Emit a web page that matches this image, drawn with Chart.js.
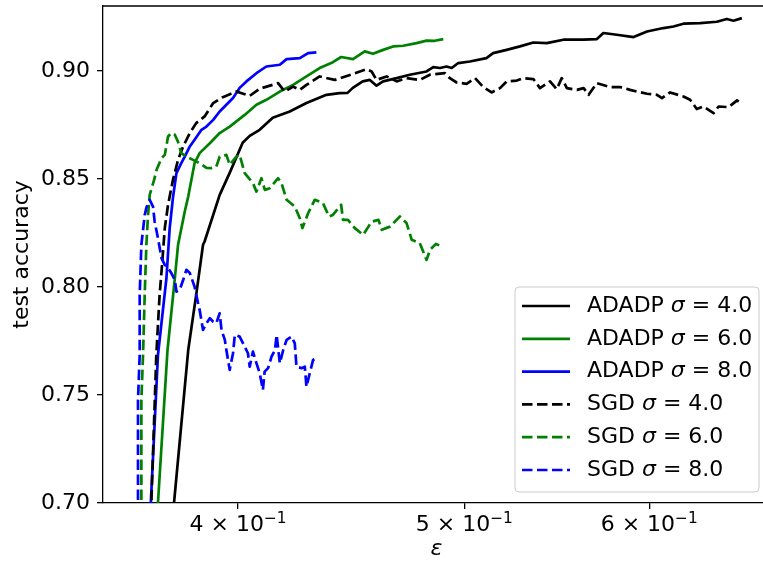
<!DOCTYPE html>
<html>
<head>
<meta charset="utf-8">
<script src="https://cdn.jsdelivr.net/npm/chart.js@4.4.1/dist/chart.umd.min.js"></script>
<style>
  html, body { margin: 0; padding: 0; background: #fff; overflow: hidden; }
  #wrap { width: 763px; height: 567px; overflow: hidden; }
</style>
</head>
<body>
<div id="wrap"><canvas id="accPlot" width="780" height="567"></canvas></div>
<script>
// values (epsilon on a log axis vs test accuracy)
var adadp4Eps = [0.3750, 0.3755, 0.3808, 0.3838, 0.3864, 0.3870, 0.3928, 0.3967, 0.4018, 0.4046, 0.4086, 0.4139, 0.4209, 0.4279, 0.4364, 0.4421, 0.4456, 0.4479, 0.4523, 0.4555, 0.4585, 0.4615, 0.4677, 0.4738, 0.4817, 0.4849, 0.4881, 0.4913, 0.4938, 0.4970, 0.5027, 0.5110, 0.5144, 0.5213, 0.5282, 0.5352, 0.5423, 0.5513, 0.5623, 0.5698, 0.5735, 0.5811, 0.5908, 0.5987, 0.6085, 0.6145, 0.6206, 0.6309, 0.6414, 0.6477, 0.6520, 0.6574];
var adadp4Acc = [0.694, 0.700, 0.7708, 0.7963, 0.8195, 0.8210, 0.8426, 0.8528, 0.8667, 0.8699, 0.8727, 0.8783, 0.8812, 0.8851, 0.8889, 0.8897, 0.8898, 0.8921, 0.8951, 0.8958, 0.8931, 0.8951, 0.8966, 0.8982, 0.8997, 0.9017, 0.9013, 0.9020, 0.9013, 0.9036, 0.9043, 0.9059, 0.9082, 0.9097, 0.9113, 0.9131, 0.9128, 0.9144, 0.9144, 0.9147, 0.9175, 0.9167, 0.9156, 0.9182, 0.9198, 0.9205, 0.9218, 0.9221, 0.9227, 0.9240, 0.9232, 0.9244];

var adadp6Eps = [0.3692, 0.3696, 0.3731, 0.3758, 0.3770, 0.3795, 0.3808, 0.3832, 0.3851, 0.3890, 0.3928, 0.3967, 0.4026, 0.4073, 0.4113, 0.4168, 0.4223, 0.4279, 0.4335, 0.4392, 0.4428, 0.4480, 0.4532, 0.4569, 0.4615, 0.4661, 0.4707, 0.4770, 0.4817, 0.4857, 0.4897];
var adadp6Acc = [0.6944, 0.700, 0.7708, 0.8040, 0.8195, 0.8349, 0.8418, 0.8573, 0.8619, 0.8665, 0.8712, 0.8742, 0.8796, 0.8843, 0.8866, 0.8904, 0.8935, 0.8974, 0.9013, 0.9040, 0.9064, 0.9054, 0.9090, 0.9079, 0.9097, 0.9113, 0.9116, 0.9128, 0.9140, 0.9139, 0.9147];

var adadp8Eps = [0.3666, 0.3670, 0.3696, 0.3727, 0.3739, 0.3751, 0.3764, 0.3782, 0.3795, 0.3814, 0.3832, 0.3858, 0.3877, 0.3903, 0.3928, 0.3954, 0.3980, 0.4006, 0.4033, 0.4073, 0.4113, 0.4168, 0.4196, 0.4251, 0.4286, 0.4321];
var adadp8Acc = [0.6944, 0.700, 0.7685, 0.8040, 0.8272, 0.8412, 0.8527, 0.8573, 0.8603, 0.8650, 0.8681, 0.8727, 0.8742, 0.8773, 0.8812, 0.8843, 0.8874, 0.8921, 0.8951, 0.8989, 0.9020, 0.9028, 0.9054, 0.9059, 0.9082, 0.9085];

var sgd4Eps = [0.3666, 0.3672, 0.3690, 0.3702, 0.3709, 0.3721, 0.3733, 0.3739, 0.3751, 0.3770, 0.3789, 0.3814, 0.3838, 0.3870, 0.3903, 0.3938, 0.3993, 0.4046, 0.4086, 0.4161, 0.4188, 0.4223, 0.4251, 0.4279, 0.4335, 0.4400, 0.4456, 0.4540, 0.4563, 0.4585, 0.4631, 0.4677, 0.4723, 0.4785, 0.4833, 0.4905, 0.4929, 0.4962, 0.5011, 0.5053, 0.5094, 0.5136, 0.5179, 0.5213, 0.5265, 0.5300, 0.5352, 0.5387, 0.5441, 0.5477, 0.5504, 0.5532, 0.5587, 0.5624, 0.5652, 0.5698, 0.5773, 0.5830, 0.5888, 0.5928, 0.5987, 0.6046, 0.6076, 0.6125, 0.6206, 0.6247, 0.6288, 0.6330, 0.6393, 0.6425, 0.6489, 0.6543, 0.6574];
var sgd4Acc = [0.6944, 0.700, 0.7685, 0.7963, 0.8071, 0.8272, 0.8380, 0.8418, 0.8495, 0.8588, 0.8650, 0.8712, 0.8758, 0.8789, 0.8851, 0.8877, 0.8904, 0.8884, 0.8917, 0.8943, 0.8904, 0.8927, 0.8912, 0.8935, 0.8974, 0.8958, 0.8977, 0.9008, 0.8997, 0.8958, 0.8974, 0.8951, 0.8966, 0.8958, 0.8982, 0.8989, 0.8966, 0.8946, 0.8940, 0.8966, 0.8925, 0.8900, 0.8920, 0.8951, 0.8955, 0.8966, 0.8962, 0.8920, 0.8951, 0.8915, 0.8966, 0.8920, 0.8912, 0.8920, 0.8889, 0.8943, 0.8925, 0.8925, 0.8912, 0.8904, 0.8894, 0.8889, 0.8874, 0.8900, 0.8881, 0.8866, 0.8823, 0.8835, 0.8804, 0.8835, 0.8832, 0.8863, 0.8847];

var sgd6Eps = [0.3634, 0.3636, 0.3636, 0.3642, 0.3648, 0.3654, 0.3660, 0.3666, 0.3682, 0.3691, 0.3709, 0.3721, 0.3733, 0.3745, 0.3758, 0.3770, 0.3782, 0.3801, 0.3826, 0.3851, 0.3877, 0.3896, 0.3915, 0.3928, 0.3954, 0.3967, 0.3993, 0.4006, 0.4026, 0.4059, 0.4073, 0.4093, 0.4107, 0.4127, 0.4161, 0.4175, 0.4196, 0.4230, 0.4251, 0.4262, 0.4286, 0.4314, 0.4349, 0.4375, 0.4392, 0.4428, 0.4436, 0.4458, 0.4488, 0.4525, 0.4563, 0.4594, 0.4609, 0.4646, 0.4692, 0.4723, 0.4747, 0.4785, 0.4817, 0.4833, 0.4862, 0.4889];
var sgd6Acc = [0.6944, 0.700, 0.7477, 0.7685, 0.7963, 0.8195, 0.8333, 0.8426, 0.8495, 0.8542, 0.8596, 0.8611, 0.8696, 0.8712, 0.8704, 0.8671, 0.8619, 0.8603, 0.8588, 0.8573, 0.8551, 0.8550, 0.8557, 0.8603, 0.8611, 0.8565, 0.8603, 0.8611, 0.8527, 0.8480, 0.8441, 0.8503, 0.8449, 0.8457, 0.8503, 0.8480, 0.8403, 0.8372, 0.8318, 0.8272, 0.8341, 0.8403, 0.8388, 0.8326, 0.8333, 0.8380, 0.8310, 0.8310, 0.8272, 0.8241, 0.8302, 0.8310, 0.8264, 0.8279, 0.8326, 0.8295, 0.8218, 0.8202, 0.8125, 0.8171, 0.8199, 0.8187];

var sgd8Eps = [0.3623, 0.3624, 0.3624, 0.3630, 0.3630, 0.3636, 0.3648, 0.3654, 0.3666, 0.3678, 0.3684, 0.3696, 0.3709, 0.3721, 0.3733, 0.3745, 0.3758, 0.3764, 0.3776, 0.3789, 0.3801, 0.3814, 0.3832, 0.3845, 0.3851, 0.3864, 0.3877, 0.3890, 0.3903, 0.3915, 0.3928, 0.3935, 0.3948, 0.3954, 0.3967, 0.3980, 0.3987, 0.4006, 0.4026, 0.4039, 0.4046, 0.4059, 0.4073, 0.4086, 0.4099, 0.4106, 0.4120, 0.4134, 0.4148, 0.4155, 0.4168, 0.4182, 0.4196, 0.4217, 0.4230, 0.4237, 0.4258, 0.4272, 0.4279, 0.4293, 0.4307, 0.4321];
var sgd8Acc = [0.6944, 0.700, 0.7477, 0.7685, 0.7963, 0.8195, 0.8333, 0.8366, 0.8403, 0.8372, 0.8302, 0.8226, 0.8133, 0.8102, 0.8087, 0.8064, 0.8032, 0.7978, 0.7986, 0.8032, 0.8079, 0.8064, 0.8001, 0.7925, 0.7894, 0.7801, 0.7832, 0.7855, 0.7839, 0.7832, 0.7878, 0.7801, 0.7755, 0.7708, 0.7616, 0.7693, 0.7778, 0.7770, 0.7724, 0.7693, 0.7631, 0.7701, 0.7647, 0.7601, 0.7523, 0.7608, 0.7624, 0.7677, 0.7708, 0.7778, 0.7647, 0.7708, 0.7755, 0.7770, 0.7739, 0.7631, 0.7624, 0.7631, 0.7538, 0.7601, 0.7662, 0.7670];

var seriesLabels = ['ADADP σ = 4.0', 'ADADP σ = 6.0', 'ADADP σ = 8.0', 'SGD σ = 4.0', 'SGD σ = 6.0', 'SGD σ = 8.0'];
var xTicks = [0.4, 0.5, 0.6];
var xTickMantissa = ['4', '5', '6'];
var xTickExponent = '−1';
var yTicks = [0.70, 0.75, 0.80, 0.85, 0.90];
var xMin = 0.3501, xMax = 0.6759;
var yMin = 0.70, yMax = 0.93;

var fontFamily = "'DejaVu Sans', sans-serif";
Chart.defaults.font.family = fontFamily;
Chart.defaults.font.size = 22;
Chart.defaults.color = '#000';

function pts(xs, ys) {
  return xs.map(function (x, i) { return { x: x, y: ys[i] }; });
}

var dashed = [10.5, 4.5];
function series(i, xs, ys, color, dash) {
  return {
    label: seriesLabels[i],
    data: pts(xs, ys),
    borderColor: color,
    borderWidth: 2.7,
    borderDash: dash,
    borderJoinStyle: 'round',
    pointRadius: 0,
    tension: 0,
    fill: false,
    order: -i
  };
}

// frame, x tick labels with a real superscript, and the legend in the lower right
var frameAndLegend = {
  id: 'frameAndLegend',
  afterDraw: function (chart) {
    var ctx = chart.ctx, a = chart.chartArea;
    ctx.save();
    ctx.strokeStyle = '#000';
    ctx.lineWidth = 1.3;
    ctx.beginPath();
    ctx.moveTo(a.left, a.top);
    ctx.lineTo(a.right, a.top);
    ctx.lineTo(a.right, a.bottom);
    ctx.stroke();

    // x tick labels: "4 × 10" + raised "−1"
    var xs = chart.scales.x;
    ctx.fillStyle = '#000';
    ctx.textBaseline = 'alphabetic';
    ctx.textAlign = 'left';
    xTicks.forEach(function (v, i) {
      var px = xs.getPixelForValue(v);
      var main = xTickMantissa[i] + ' × 10';
      ctx.font = '22px ' + fontFamily;
      var wMain = ctx.measureText(main).width;
      ctx.font = '15.4px ' + fontFamily;
      var wSup = ctx.measureText(xTickExponent).width;
      var sx = px - (wMain + wSup) / 2;
      ctx.font = '22px ' + fontFamily;
      ctx.fillText(main, sx, a.bottom + 28);
      ctx.font = '15.4px ' + fontFamily;
      ctx.fillText(xTickExponent, sx + wMain, a.bottom + 20);
    });

    var w = 244, h = 205, pad = 11;
    var x0 = a.right - pad - w, y0 = a.bottom - pad - h;
    ctx.beginPath();
    ctx.roundRect(x0, y0, w, h, 4);
    ctx.fillStyle = 'rgba(255,255,255,0.8)';
    ctx.fill();
    ctx.strokeStyle = '#cccccc';
    ctx.lineWidth = 1;
    ctx.stroke();

    ctx.textBaseline = 'middle';
    chart.data.datasets.forEach(function (ds, i) {
      var y = y0 + 19 + i * 32.8;
      ctx.strokeStyle = ds.borderColor;
      ctx.lineWidth = ds.borderWidth;
      ctx.setLineDash(ds.borderDash || []);
      ctx.beginPath();
      ctx.moveTo(x0 + 7, y);
      ctx.lineTo(x0 + 55, y);
      ctx.stroke();
      ctx.setLineDash([]);

      var parts = ds.label.split('σ');
      var tx = x0 + 72;
      ctx.fillStyle = '#000';
      ctx.font = '22px ' + fontFamily;
      ctx.fillText(parts[0], tx, y);
      tx += ctx.measureText(parts[0]).width;
      ctx.font = 'italic 22px ' + fontFamily;
      ctx.fillText('σ', tx, y);
      tx += ctx.measureText('σ').width;
      ctx.font = '22px ' + fontFamily;
      ctx.fillText(parts[1], tx, y);
    });
    ctx.restore();
  }
};

var ctx = document.getElementById('accPlot').getContext('2d');
var accChart = new Chart(ctx, {
  type: 'line',
  data: {
    datasets: [
      series(0, adadp4Eps, adadp4Acc, '#000000', []),
      series(1, adadp6Eps, adadp6Acc, '#008000', []),
      series(2, adadp8Eps, adadp8Acc, '#0000ff', []),
      series(3, sgd4Eps, sgd4Acc, '#000000', dashed),
      series(4, sgd6Eps, sgd6Acc, '#008000', dashed),
      series(5, sgd8Eps, sgd8Acc, '#0000ff', dashed)
    ]
  },
  options: {
    responsive: false,
    animation: false,
    devicePixelRatio: 1,
    layout: { padding: { left: 0, top: 6, right: 10, bottom: 0 } },
    plugins: {
      legend: { display: false },
      tooltip: { enabled: false }
    },
    scales: {
      x: {
        type: 'logarithmic',
        bounds: 'data',
        min: xMin,
        max: xMax,
        afterBuildTicks: function (s) {
          s.ticks = xTicks.map(function (v) { return { value: v }; });
        },
        afterFit: function (s) {
          s.height = 64;
          s.paddingLeft = 0;
          s.paddingRight = 0;
        },
        ticks: {
          autoSkip: false,
          maxRotation: 0,
          padding: 5,
          color: 'rgba(0,0,0,0)',
          callback: function (v, i) { return xTickMantissa[i] + ' × 10' + xTickExponent; }
        },
        grid: { drawOnChartArea: false, drawTicks: true, tickLength: 6, color: '#000', lineWidth: 1.3 },
        border: { color: '#000', width: 1.3 },
        title: {
          display: true,
          text: 'ε',
          color: '#000',
          font: { size: 22, style: 'italic' },
          padding: { top: 0, bottom: 5 }
        }
      },
      y: {
        min: yMin,
        max: yMax,
        afterBuildTicks: function (s) {
          s.ticks = yTicks.map(function (v) { return { value: v }; });
        },
        afterFit: function (s) {
          s.width = 103;
          s.paddingTop = 0;
          s.paddingBottom = 0;
        },
        ticks: {
          padding: 7,
          color: '#000',
          callback: function (v) { return Number(v).toFixed(2); }
        },
        grid: { drawOnChartArea: false, drawTicks: true, tickLength: 6, color: '#000', lineWidth: 1.3 },
        border: { color: '#000', width: 1.3 },
        title: {
          display: true,
          text: 'test accuracy',
          color: '#000',
          font: { size: 22 },
          padding: { top: 9, bottom: 0 }
        }
      }
    }
  },
  plugins: [frameAndLegend]
});
</script>
</body>
</html>
